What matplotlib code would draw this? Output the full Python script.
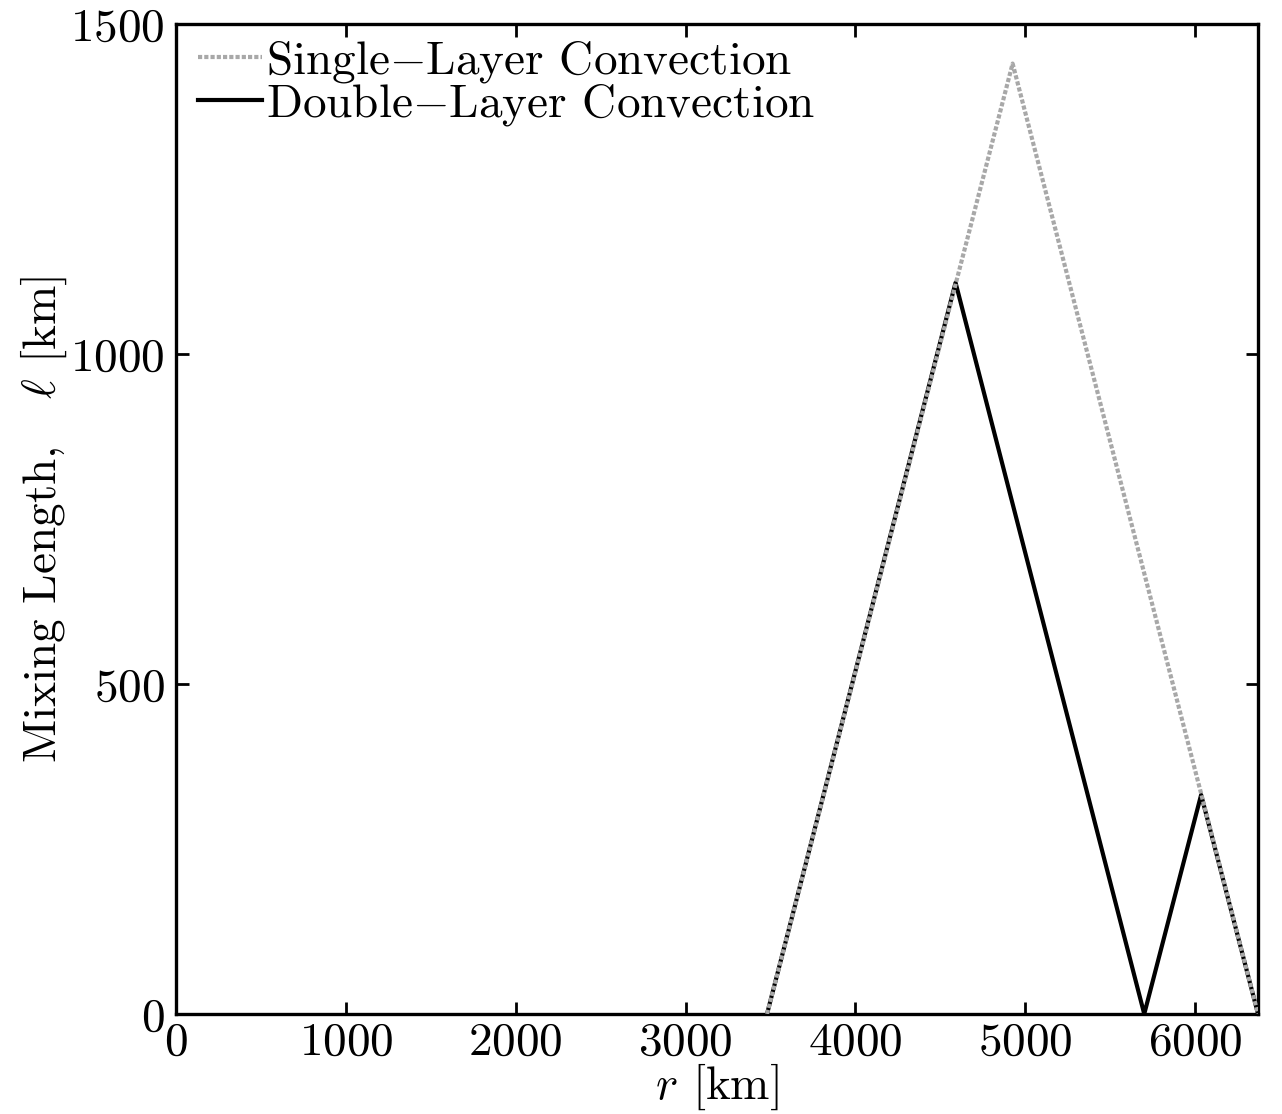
import matplotlib
matplotlib.use('Agg')
import matplotlib.pyplot as plt

plt.rcParams['font.family'] = 'serif'
plt.rcParams['font.serif'] = ['cmr10', 'DejaVu Serif']
plt.rcParams['mathtext.fontset'] = 'cm'
plt.rcParams['axes.formatter.use_mathtext'] = True

# radius [km] and mixing length [km]
r_single = [3480, 4926, 6371]
l_single = [0, 1440, 0]
r_double = [3480, 4590, 5701, 6036, 6371]
l_double = [0, 1108, 0, 332, 0]

fig = plt.figure(figsize=(12.82, 11.14), dpi=100)
ax = fig.add_axes([0.1373, 0.0898, 0.8440, 0.8887])

ax.plot(r_double, l_double, color='black', lw=3, zorder=2,
        label='Double$-$Layer Convection')
ax.plot(r_single, l_single, color='#a8a8a8', lw=3, ls=(0, (1, 0.5)), zorder=3,
        label='Single$-$Layer Convection')

ax.set_xlim(0, 6371)
ax.set_ylim(0, 1500)
ax.set_xticks([0, 1000, 2000, 3000, 4000, 5000, 6000])
ax.set_yticks([0, 500, 1000, 1500])

ax.tick_params(direction='in', length=9, width=2, top=True, right=True,
               labelsize=34, pad=8)
ax.tick_params(axis='x', pad=6)
for s in ax.spines.values():
    s.set_linewidth(2.4)

ax.set_xlabel('$r$ [km]', fontsize=34, labelpad=-2)
ax.set_ylabel('Mixing Length,   $\\ell$ [km]', fontsize=34, labelpad=1)

h, l = ax.get_legend_handles_labels()
ax.legend(h[::-1], l[::-1], loc='upper left', bbox_to_anchor=(0.016, 0.990),
          frameon=False, fontsize=34,
          handlelength=1.35, handletextpad=0.08, labelspacing=-0.05,
          borderaxespad=0, borderpad=0.1)

fig.savefig('out.png', dpi=100)
